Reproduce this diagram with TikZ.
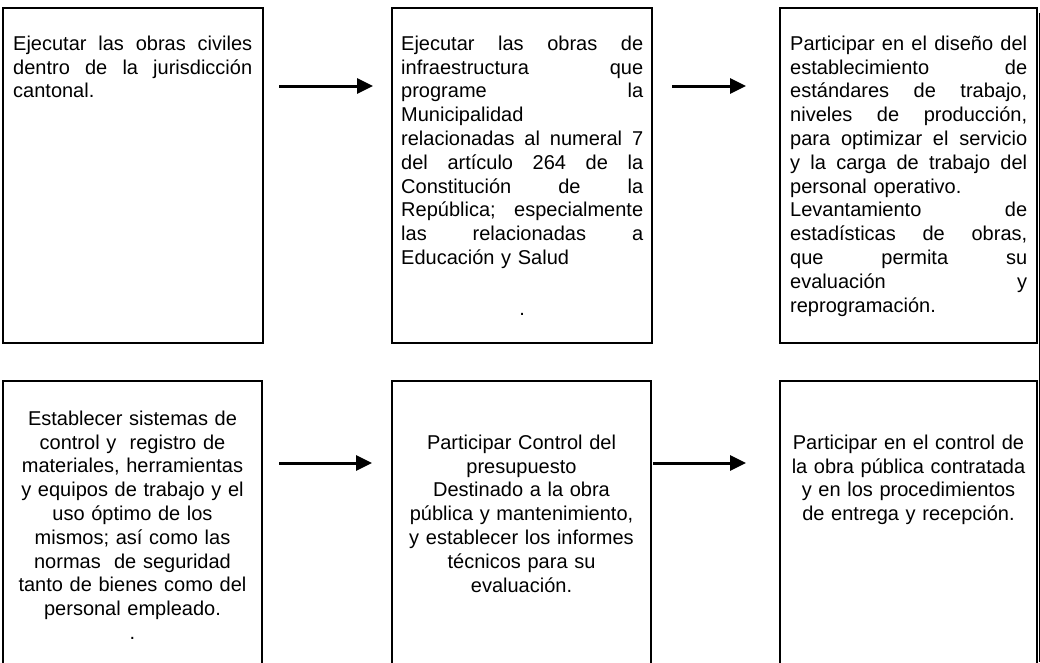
\documentclass[tikz,border=0pt]{standalone}
\usepackage{fontspec}
\setmainfont{Liberation Sans}
\usetikzlibrary{arrows.meta,calc}
\setlength\parindent{0pt}
\newlength\tw
\newcommand\jl[1]{\leavevmode\hbox to \tw{#1}}
\newcommand\fs{\rule{0pt}{15pt}}
\begin{document}
\begin{tikzpicture}[x=1pt,y=-1pt,
  box/.style={draw=black,line width=2pt,outer sep=0pt,inner sep=0pt,minimum width=260pt,minimum height=335pt},
  arr/.style={line width=3pt,-{Triangle[length=16pt,width=15pt]}},
  txt/.style={inner sep=0pt,font=\fontsize{20pt}{23.8pt}\selectfont,align=left,anchor=north west},
  ctxt/.style={inner sep=0pt,font=\fontsize{20pt}{23.8pt}\selectfont,align=center,anchor=north,text width=244pt}]
\useasboundingbox (0,0) rectangle (1040,662);
\clip (0,0) rectangle (1040,662);
% top row boxes
\node[box] (b1) at (133,175.5) {};
\node[box] (b2) at (522,175.5) {};
\node[box,minimum width=257pt] (b3) at (908.5,175.5) {};
% bottom row boxes
\node[box,minimum width=259pt,minimum height=319pt] (b4) at (132.5,540.5) {};
\node[box,minimum width=259pt,minimum height=319pt] (b5) at (521.5,540.5) {};
\node[box,minimum width=257pt,minimum height=319pt] (b6) at (908.5,540.5) {};
% texts
\node[txt,text width=239pt] (t1) at (13,35) {\setlength\tw{239pt}%
\jl{\fs Ejecutar\hfill las\hfill obras\hfill civiles}\\
\jl{dentro\hfill de\hfill la\hfill jurisdicción}\\
cantonal.};
\node[txt,text width=242pt] (t2) at (401,35) {\setlength\tw{242pt}%
\jl{\fs Ejecutar\hfill las\hfill obras\hfill de}\\
\jl{infraestructura\hfill que}\\
\jl{programe\hfill la}\\
Municipalidad\\
\jl{relacionadas\hfill al\hfill numeral\hfill 7}\\
\jl{del\hfill artículo\hfill 264\hfill de\hfill la}\\
\jl{Constitución\hfill de\hfill la}\\
\jl{República;\hfill especialmente}\\
\jl{las\hfill relacionadas\hfill a}\\
Educación y Salud\\[27pt]
\jl{\hfil.\hfil}};
\node[txt,text width=237pt] (t3) at (790,35) {\setlength\tw{237pt}%
\jl{\fs Participar\hfill en\hfill el\hfill diseño\hfill del}\\
\jl{establecimiento\hfill de}\\
\jl{estándares\hfill de\hfill trabajo,}\\
\jl{niveles\hfill de\hfill producción,}\\
\jl{para\hfill optimizar\hfill el\hfill servicio}\\
\jl{y\hfill la\hfill carga\hfill de\hfill trabajo\hfill del}\\
personal operativo.\\
\jl{Levantamiento\hfill de}\\
\jl{estadísticas\hfill de\hfill obras,}\\
\jl{que\hfill permita\hfill su}\\
\jl{evaluación\hfill y}\\
reprogramación.};
\node[ctxt] (t4) at (132.5,410) {\fs Establecer sistemas de\\
control y\ \ registro de\\
materiales, herramientas\\
y equipos de trabajo y el\\
uso óptimo de los\\
mismos; así como las\\
normas\ \ de seguridad\\
tanto de bienes como del\\
personal empleado.\\
.};
\node[ctxt] (t5) at (521.5,434) {\fs Participar Control del\\
presupuesto\\
Destinado a la obra\\
pública y mantenimiento,\\
y establecer los informes\\
técnicos para su\\
evaluación.};
\node[ctxt] (t6) at (908.5,434) {\fs Participar en el control de\\
la obra pública contratada\\
y en los procedimientos\\
de entrega y recepción.};
% arrows
\coordinate (r1) at (0,86);
\coordinate (r2) at (0,463);
\draw[arr] ($(b1.east |- r1)+(16,0)$) -- ($(b2.west |- r1)+(-19,0)$);
\draw[arr] ($(b2.east |- r1)+(20,0)$) -- ($(b3.west |- r1)+(-34,0)$);
\draw[arr] ($(b4.east |- r2)+(17,0)$) -- ($(b5.west |- r2)+(-20,0)$);
\draw[arr] ($(b5.east |- r2)+(2,0)$) -- ($(b6.west |- r2)+(-34,0)$);
% right frame line
\coordinate (e1) at (1039.5,13);
\coordinate (e2) at (1039.5,662);
\draw[line width=1.2pt] (e1) -- (e2);
\end{tikzpicture}
\end{document}
